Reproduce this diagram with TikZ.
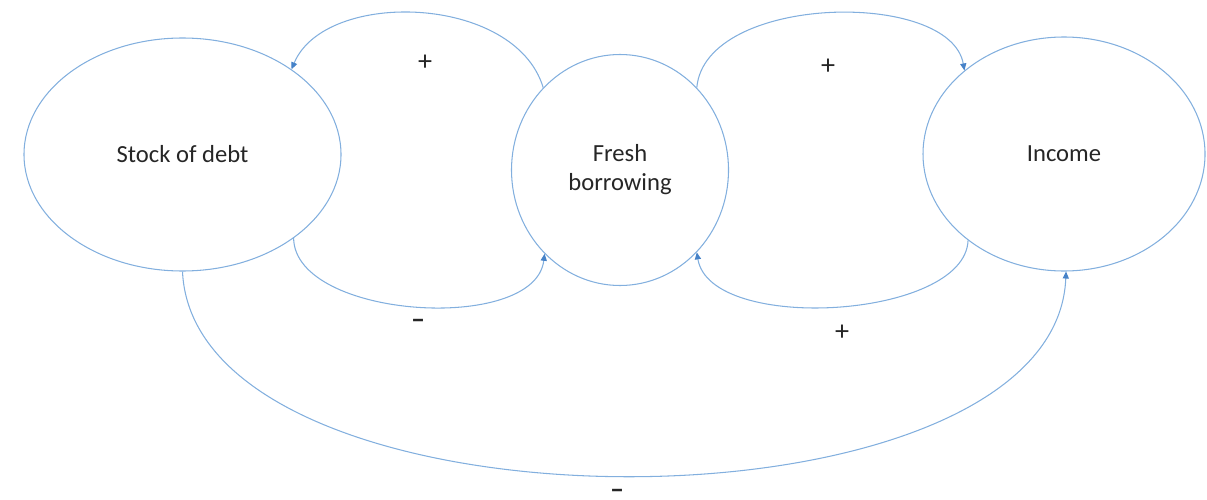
\documentclass[tikz,border=0pt]{standalone}
\usepackage{fontspec}
\setmainfont{Carlito}
\usetikzlibrary{arrows.meta}
\usetikzlibrary{shapes.geometric}

\definecolor{loopblue}{RGB}{130,175,222}
\definecolor{tipblue}{RGB}{70,130,200}

\begin{document}
\begin{tikzpicture}[
  bubble/.style={draw=loopblue, line width=.6pt, ellipse, inner sep=0pt, align=center,
    font=\fontsize{14}{16.5}\selectfont, text=black!85},
  link/.style={draw=loopblue, line width=.6pt, -{Triangle[length=4pt,width=3.5pt,color=tipblue]}},
  sign/.style={font=\fontsize{16}{18}\selectfont, text=black!85, inner sep=0pt}]

\useasboundingbox (0,0) rectangle (24.14,9.98);

\node[bubble, minimum width=6.34cm, minimum height=4.66cm] (debt) at (3.65,6.89) {Stock of debt};
\node[bubble, minimum width=4.34cm, minimum height=4.62cm] (fresh) at (12.40,6.58) {Fresh\\borrowing};
\node[bubble, minimum width=5.64cm, minimum height=4.68cm] (income) at (21.28,6.90) {Income};

\draw[link] (fresh.133) .. controls (10.3,10.1) and (6.5,10.2) .. (debt.38);
\draw[link] (debt.-37) .. controls (5.9,3.6) and (10.7,3.3) .. (fresh.-132);
\draw[link] (fresh.47) .. controls (14.1,10.1) and (19.0,10.2) .. (income.140);
\draw[link] (income.222) .. controls (19.3,3.6) and (14.2,3.3) .. (fresh.-47);
\draw[link] (debt.-90) .. controls (3.9,-0.9) and (21.1,-0.9) .. (income.-89);

\node[sign] (plusA) at (8.5,8.72) {+};
\node[sign] (minusA) at (8.36,3.50) {\textbf{–}};
\node[sign] (plusB) at (16.56,8.64) {+};
\node[sign] (plusC) at (16.84,3.32) {+};
\node[sign, anchor=base, text depth=0pt] (minusB) at (12.34,0.02) {\textbf{–}};

\end{tikzpicture}
\end{document}
